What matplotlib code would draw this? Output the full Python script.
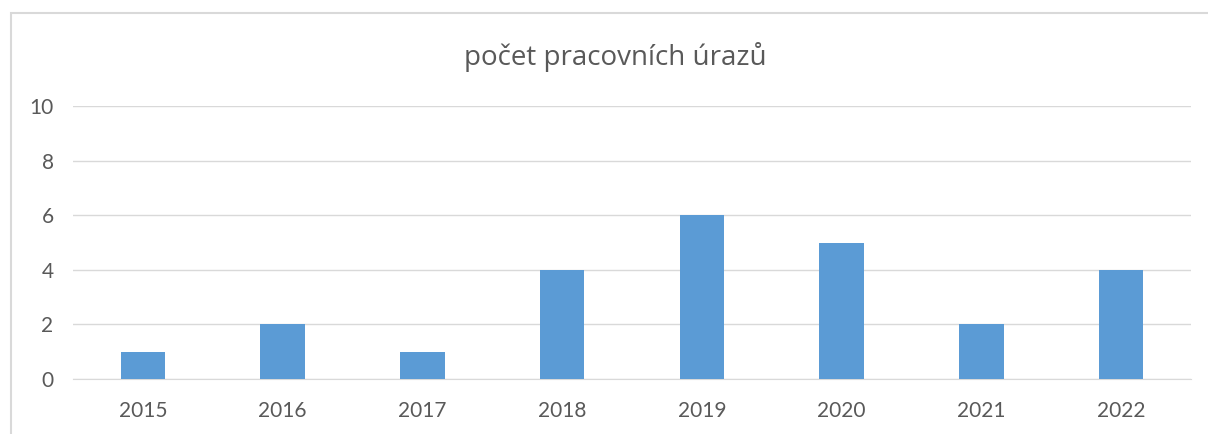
import matplotlib.pyplot as plt
from matplotlib.patches import Rectangle

years = ["2015", "2016", "2017", "2018", "2019", "2020", "2021", "2022"]
urazy = [1, 2, 1, 4, 6, 5, 2, 4]
yticks = [0, 2, 4, 6, 8, 10]

plt.rcParams['font.family'] = ['Lato', 'DejaVu Sans']

fig = plt.figure(figsize=(12.08, 4.34), dpi=100)
ax = fig.add_axes([73 / 1208, 1 - 379 / 434, (1191 - 73) / 1208, (379 - 106) / 434])

# chart frame (runs off the right and bottom edge)
fig.patches.append(Rectangle((10.5 / 1208, -0.1), 1.2, 1 - 13 / 434 + 0.1,
                             transform=fig.transFigure, fill=False,
                             edgecolor="#d9d9d9", linewidth=1.5))

x = range(len(years))
ax.bar(x, urazy, width=0.32, color="#5b9bd5", zorder=3)

ax.set_xlim(-0.5, len(years) - 0.5)
ax.set_ylim(0, 10)
ax.set_yticks(yticks)
ax.set_xticks(list(x))
ax.set_xticklabels(years)
ax.yaxis.grid(True, color="#d9d9d9", linewidth=1)
ax.set_axisbelow(True)
for s in ["top", "right", "left"]:
    ax.spines[s].set_visible(False)
ax.spines["bottom"].set_color("#d9d9d9")
ax.tick_params(axis="both", length=0, labelsize=15, colors="#595959")
ax.tick_params(axis="y", pad=14)
ax.tick_params(axis="x", pad=16)

fig.text(615 / 1208, 1 - 57 / 434, "počet pracovních úrazů", ha="center", va="center",
         fontsize=20, color="#595959", family=["Open Sans", "DejaVu Sans"])

fig.savefig("out.png", dpi=100)
